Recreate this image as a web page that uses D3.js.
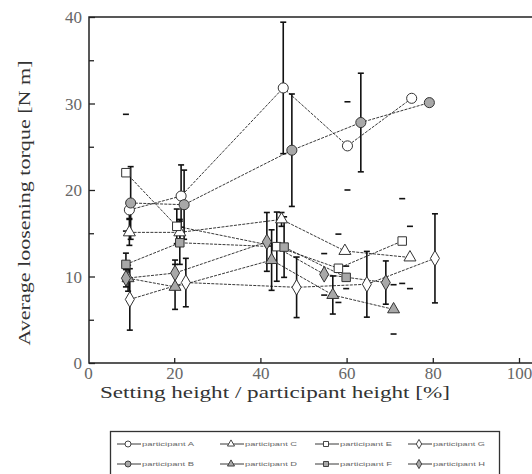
<!DOCTYPE html>
<html>
<head>
<meta charset="utf-8">
<script src="https://cdn.jsdelivr.net/npm/d3@7"></script>
<style>
  body { margin: 0; background: #fff; }
  svg { display: block; font-family: "Liberation Serif", "DejaVu Serif", serif; }
</style>
</head>
<body>
<div id="vis"></div>
<script>
// tick labels
var xTicks = [0, 20, 40, 60, 80, 100];
var yTicks = [0, 10, 20, 30, 40];
var yMinor = [5, 15, 25, 35];

// one entry per participant: name, marker shape, filled or not
var names = ["participant A", "participant B", "participant C", "participant D",
             "participant E", "participant F", "participant G", "participant H"];
var shapes = ["circle", "circle", "triangle", "triangle", "square", "square", "diamond", "diamond"];
var filled = [0, 1, 0, 1, 0, 1, 0, 1];

// x = setting height [%], y = torque, err = half length of error bar,
// stem = 0 where only the caps of the bar are visible
var xA = [9.6, 21.6, 45.3, 60.2, 75.1], yA = [17.7, 19.3, 31.8, 25.1, 30.6], eA = [1.0, 3.6, 7.6, 5.1, 0], sA = [1, 1, 1, 0, 1];
var xB = [9.9, 22.3, 47.3, 63.3, 79.2], yB = [18.5, 18.3, 24.6, 27.8, 30.1], eB = [4.2, 4.0, 6.5, 5.7, 0], sB = [1, 1, 1, 1, 1];
var xC = [9.6, 21.3, 44.9, 59.6, 74.7], yC = [15.1, 15.1, 16.6, 12.95, 12.2], eC = [1.5, 1.5, 0.8, 0, 3.6], sC = [1, 1, 1, 1, 0];
var xD = [9.3, 20.2, 42.6, 56.8, 70.9], yD = [9.8, 8.8, 11.9, 7.86, 6.2], eD = [1.5, 2.6, 3.5, 2.2, 2.85], sD = [1, 1, 1, 1, 0];
var xE = [8.8, 20.6, 43.8, 58.1, 72.9], yE = [22.0, 15.8, 13.45, 10.95, 14.1], eE = [6.75, 2.0, 4.0, 3.95, 4.9], sE = [0, 1, 1, 0, 0];
var xF = [8.8, 21.3, 45.5, 59.9], yF = [11.4, 13.9, 13.4, 9.9], eF = [1.3, 2.5, 3.5, 1.3], sF = [1, 1, 1, 0];
var xG = [9.7, 22.7, 48.4, 64.7, 80.5], yG = [7.35, 9.3, 8.75, 9.1, 12.1], eG = [3.55, 2.8, 3.5, 3.8, 5.15], sG = [1, 1, 1, 1, 1];
var xH = [8.8, 20.2, 41.5, 54.8, 69.1], yH = [9.8, 10.4, 14.0, 10.25, 9.3], eH = [1.0, 1.5, 3.4, 2.4, 2.5], sH = [1, 1, 1, 0, 1];

var allX = [xA, xB, xC, xD, xE, xF, xG, xH];
var allY = [yA, yB, yC, yD, yE, yF, yG, yH];
var allE = [eA, eB, eC, eD, eE, eF, eG, eH];
var allS = [sA, sB, sC, sD, sE, sF, sG, sH];

var width = 532, height = 474;
var plotLeft = 89, plotTop = 17, plotBottom = 363;

var series = names.map(function(n, i) {
    return {
        name: n, shape: shapes[i], filled: filled[i],
        points: allX[i].map(function(v, j) {
            return { x: v, y: allY[i][j], e: allE[i][j], s: allS[i][j] };
        })
    };
});

var svg = d3.select("#vis").append("svg")
    .attr("width", width)
    .attr("height", height);

var x = d3.scaleLinear().domain([0, 100]).range([88, 519]);
var y = d3.scaleLinear().domain([0, 40]).range([plotBottom, plotTop]);

var symbolOf = {
    circle: d3.symbolCircle, triangle: d3.symbolTriangle,
    square: d3.symbolSquare, diamond: d3.symbolDiamond
};
var sizeOf = { circle: 80, triangle: 62, square: 72, diamond: 70 };

// axes
var gx = svg.append("g")
    .attr("transform", "translate(0," + plotBottom + ")")
    .call(d3.axisBottom(x).tickValues(xTicks).tickSizeInner(-5).tickSizeOuter(0).tickPadding(4));
var gy = svg.append("g")
    .attr("transform", "translate(" + plotLeft + ",0)")
    .call(d3.axisLeft(y).tickValues(yTicks).tickSizeInner(-6).tickSizeOuter(0).tickPadding(7));
svg.append("g")
    .attr("transform", "translate(" + plotLeft + ",0)")
    .call(d3.axisLeft(y).tickValues(yMinor).tickSizeInner(-5).tickSizeOuter(0).tickFormat(""))
    .call(function(g) {
        g.select(".domain").remove();
        g.selectAll("line").attr("stroke", "#222").attr("stroke-width", 1.3);
    });

[gx, gy].forEach(function(g) {
    g.select(".domain").remove();
    g.selectAll("line").attr("stroke", "#222").attr("stroke-width", 1.3);
    g.selectAll("text")
        .attr("font-family", "Liberation Serif")
        .attr("font-size", 17)
        .attr("fill", "#666");
});
gy.selectAll("text").attr("dy", "0.35em");
gx.selectAll(".tick").filter(function(d) { return d === 0; }).select("line").remove();

// frame: left, top, bottom (right side runs off the picture)
svg.append("path")
    .attr("d", "M540," + plotTop + "H" + plotLeft + "V" + plotBottom + "H540")
    .attr("fill", "none")
    .attr("stroke", "#222")
    .attr("stroke-width", 1.5);

// axis titles
svg.append("text")
    .attr("x", 275)
    .attr("y", 398)
    .attr("text-anchor", "middle")
    .attr("font-size", 17)
    .attr("fill", "#333")
    .attr("textLength", 350)
    .attr("lengthAdjust", "spacingAndGlyphs")
    .text("Setting height / participant height [%]");

svg.append("text")
    .attr("transform", "translate(30,203) rotate(-90)")
    .attr("text-anchor", "middle")
    .attr("font-size", 17)
    .attr("fill", "#333")
    .attr("textLength", 285)
    .attr("lengthAdjust", "spacingAndGlyphs")
    .text("Average loosening torque [N m]");

var line = d3.line()
    .x(function(d) { return x(d.x); })
    .y(function(d) { return y(d.y); });

var plot = svg.append("g");

// connecting lines
plot.selectAll(".conn")
    .data(series)
    .enter()
    .append("path")
    .attr("class", "conn")
    .attr("d", function(d) { return line(d.points); })
    .attr("fill", "none")
    .attr("stroke", "#222")
    .attr("stroke-width", 0.9)
    .attr("stroke-dasharray", "3,1.2");

// error bars
var errPts = [];
series.forEach(function(s) {
    s.points.forEach(function(p) { if (p.e > 0) errPts.push(p); });
});

var eb = plot.selectAll(".err")
    .data(errPts)
    .enter()
    .append("g")
    .attr("class", "err")
    .attr("stroke", "#111")
    .attr("stroke-width", 1.6);

eb.filter(function(d) { return d.s; })
    .append("line")
    .attr("x1", function(d) { return x(d.x); })
    .attr("x2", function(d) { return x(d.x); })
    .attr("y1", function(d) { return y(d.y + d.e); })
    .attr("y2", function(d) { return y(d.y - d.e); });

[1, -1].forEach(function(sign) {
    eb.append("line")
        .attr("x1", function(d) { return x(d.x) - 3; })
        .attr("x2", function(d) { return x(d.x) + 3; })
        .attr("y1", function(d) { return y(d.y + sign * d.e); })
        .attr("y2", function(d) { return y(d.y + sign * d.e); });
});

// markers
series.forEach(function(s) {
    plot.selectAll(null)
        .data(s.points)
        .enter()
        .append("path")
        .attr("transform", function(d) { return "translate(" + x(d.x) + "," + y(d.y) + ")"; })
        .attr("d", d3.symbol().type(symbolOf[s.shape]).size(sizeOf[s.shape]))
        .attr("fill", s.filled ? "#a8a8a8" : "#fff")
        .attr("stroke", "#333")
        .attr("stroke-width", 1);
});

// legend
var legCols = [117, 220, 315, 408];
var legRows = [444, 464];

svg.append("rect")
    .attr("x", 110.5)
    .attr("y", 431.5)
    .attr("width", 389)
    .attr("height", 60)
    .attr("fill", "#fff")
    .attr("stroke", "#333")
    .attr("stroke-width", 1.3);

var leg = svg.selectAll(".leg")
    .data(series)
    .enter()
    .append("g")
    .attr("class", "leg")
    .attr("transform", function(d, i) {
        return "translate(" + legCols[Math.floor(i / 2)] + "," + legRows[i % 2] + ")";
    });

leg.append("line")
    .attr("x1", 0).attr("x2", 24)
    .attr("stroke", "#222").attr("stroke-width", 0.9);

leg.append("path")
    .attr("transform", "translate(11,0)")
    .attr("d", function(d) { return d3.symbol().type(symbolOf[d.shape]).size(sizeOf[d.shape] * 0.35)(); })
    .attr("fill", function(d) { return d.filled ? "#a8a8a8" : "#fff"; })
    .attr("stroke", "#333")
    .attr("stroke-width", 0.9);

leg.append("text")
    .attr("x", 25)
    .attr("y", 2)
    .attr("font-size", 6)
    .attr("font-family", "Liberation Sans")
    .attr("fill", "#666")
    .attr("textLength", 52)
    .attr("lengthAdjust", "spacingAndGlyphs")
    .text(function(d) { return d.name; });
</script>
</body>
</html>
